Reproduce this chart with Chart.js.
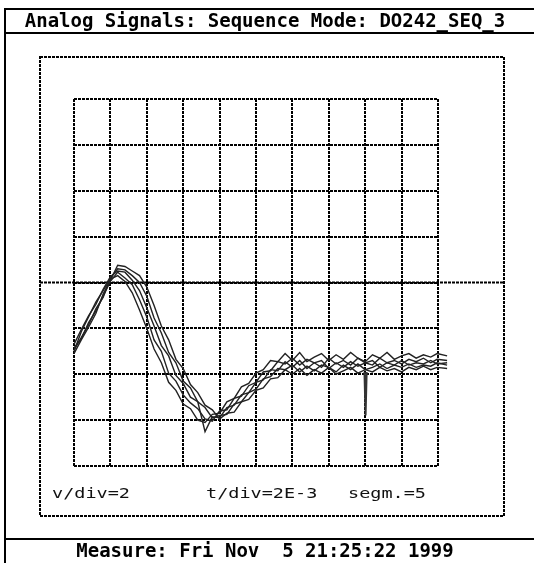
<!DOCTYPE html>
<html>
<head>
<meta charset="utf-8">
<script src="https://cdn.jsdelivr.net/npm/chart.js@4.4.0/dist/chart.umd.min.js"></script>
<style>
    html, body { margin: 0; padding: 0; background: #fff; }
    #wrap { position: relative; width: 534px; height: 563px; overflow: hidden; }
    #scope { position: absolute; left: 0; top: 0; }
    .txt { position: absolute; white-space: pre; font-family: "DejaVu Sans Mono", monospace; line-height: 1; color: #000; }
    .head { font-size: 19px; font-weight: bold; width: 534px; text-align: center; }
    .lbl { font-size: 14px; color: #111; transform: scaleX(1.32); transform-origin: left top; }
</style>
</head>
<body>
<div id="wrap">
    <canvas id="scope" width="534" height="563"></canvas>
    <div class="txt head" style="left:-2px; top:11px;">Analog Signals: Sequence Mode: DO242_SEQ_3</div>
    <div class="txt lbl" style="left:52px; top:486px;">v/div=2</div>
    <div class="txt lbl" style="left:206px; top:486px;">t/div=2E-3</div>
    <div class="txt lbl" style="left:348px; top:486px;">segm.=5</div>
    <div class="txt head" style="left:-2px; top:541px;">Measure: Fri Nov  5 21:25:22 1999</div>
</div>
<script>
// temps en ms (t/div = 2E-3 s), tensions en V (v/div = 2)
const times = [0, 0.4, 0.8, 1.2, 1.6, 2.0, 2.4, 2.8, 3.2, 3.6,
    4.0, 4.4, 4.8, 5.2, 5.6, 6.0, 6.4, 6.8, 7.2, 7.6,
    8.0, 8.4, 8.8, 9.2, 9.6, 10.0, 10.4, 10.8, 11.2, 11.6,
    12.0, 12.4, 12.8, 13.2, 13.6, 14.0, 14.4, 14.8, 15.2, 15.6,
    16.0, 16.4, 16.8, 17.2, 17.6, 18.0, 18.4, 18.8, 19.2, 19.6,
    19.95, 20.5];

// 5 segments superposés
const seg1 = [-3.0, -2.15, -1.5, -0.85, -0.35, 0.15, 0.3, 0.05, -0.45, -1.2,
    -2.0, -2.9, -3.5, -4.35, -4.7, -5.3, -5.5, -6.0, -6.1, -5.75,
    -5.7, -5.2, -5.05, -4.55, -4.4, -3.95, -3.8, -3.4, -3.45, -3.1,
    -3.4, -3.05, -3.45, -3.25, -3.1, -3.4, -3.15, -3.35, -3.05, -3.3,
    -3.45, -3.15, -3.3, -3.05, -3.35, -3.2, -3.1, -3.3, -3.15, -3.25,
    -3.1, -3.2];
const seg2 = [-2.85, -2.45, -1.75, -1.25, -0.6, 0.05, 0.45, 0.2, -0.1, -0.75,
    -1.5, -2.5, -3.0, -3.95, -4.3, -4.9, -5.25, -5.5, -5.95, -6.05,
    -5.6, -5.55, -5.05, -4.95, -4.5, -4.35, -3.9, -3.85, -3.45, -3.55,
    -3.3, -3.6, -3.35, -3.5, -3.7, -3.3, -3.55, -3.4, -3.6, -3.3,
    -3.5, -3.6, -3.3, -3.5, -3.4, -3.55, -3.35, -3.45, -3.3, -3.5,
    -3.35, -3.4];
const seg3 = [-2.7, -2.05, -1.45, -0.95, -0.3, 0.25, 0.5, 0.45, 0.1, -0.35,
    -1.1, -1.9, -2.75, -3.2, -4.05, -4.4, -5.0, -5.2, -6.5, -5.85,
    -5.9, -5.45, -5.35, -4.9, -4.8, -4.35, -4.25, -3.8, -3.85, -3.45,
    -3.7, -3.4, -3.75, -3.5, -3.4, -3.75, -3.5, -3.7, -3.45, -3.65,
    -3.5, -3.4, -3.7, -3.5, -3.6, -3.4, -3.6, -3.5, -3.55, -3.4,
    -3.55, -3.5];
const seg4 = [-2.95, -2.4, -1.85, -1.15, -0.65, 0.2, 0.6, 0.55, 0.3, 0.0,
    -0.6, -1.55, -2.2, -3.05, -3.5, -4.3, -4.6, -5.2, -5.45, -5.9,
    -5.8, -5.75, -5.3, -5.2, -4.8, -4.65, -4.2, -4.1, -3.75, -3.8,
    -3.6, -3.9, -3.65, -3.85, -3.6, -3.7, -3.9, -3.6, -3.8, -3.55,
    -3.8, -3.7, -3.55, -3.75, -3.6, -3.7, -3.55, -3.7, -3.6, -3.65,
    -3.5, -3.6];
const seg5 = [-3.1, -2.5, -1.95, -1.35, -0.5, 0.1, 0.75, 0.7, 0.5, 0.3,
    -0.2, -1.0, -1.9, -2.5, -3.35, -3.75, -4.45, -4.8, -5.35, -5.55,
    -5.95, -5.7, -5.65, -5.2, -5.1, -4.7, -4.6, -4.2, -4.15, -3.8,
    -4.0, -3.75, -4.05, -3.8, -3.95, -3.7, -4.0, -3.85, -3.7, -3.95,
    -3.8, -3.9, -3.7, -3.85, -3.75, -3.9, -3.7, -3.8, -3.65, -3.8,
    -3.7, -3.75];

// pic isolé vers 16 ms
const glitchTimes = [15.96, 16.02, 16.08];
const glitchValues = [-3.9, -5.8, -3.9];

const segments = [seg1, seg2, seg3, seg4, seg5];

// cadre, boîte pointillée et axe central prolongé
const scopeFrame = {
    id: 'scopeFrame',
    beforeDraw(chart) {
        const ctx = chart.ctx;
        const y0 = chart.scales.y.getPixelForValue(0);
        ctx.save();
        ctx.strokeStyle = '#000';
        ctx.lineWidth = 2;
        ctx.beginPath();
        ctx.moveTo(5, 9); ctx.lineTo(534, 9);
        ctx.moveTo(5, 33); ctx.lineTo(534, 33);
        ctx.moveTo(5, 539); ctx.lineTo(534, 539);
        ctx.moveTo(5, 8); ctx.lineTo(5, 563);
        ctx.stroke();
        ctx.setLineDash([3, 1]);
        ctx.strokeRect(40, 57, 464, 459);
        ctx.beginPath();
        ctx.moveTo(40, y0); ctx.lineTo(504, y0);
        ctx.stroke();
        ctx.restore();
    }
};

new Chart(document.getElementById('scope'), {
    type: 'line',
    data: {
        datasets: segments.map(seg => ({
            data: times.map((t, i) => ({ x: t, y: seg[i] })),
            borderColor: '#222',
            borderWidth: 1.4,
            pointRadius: 0,
            tension: 0,
            clip: false
        })).concat([{
            data: glitchTimes.map((t, i) => ({ x: t, y: glitchValues[i] })),
            borderColor: '#333',
            borderWidth: 2,
            pointRadius: 0,
            tension: 0
        }])
    },
    options: {
        responsive: false,
        devicePixelRatio: 1,
        animation: false,
        layout: { padding: { left: 74, right: 96, top: 99, bottom: 97 } },
        plugins: { legend: { display: false }, tooltip: { enabled: false } },
        scales: {
            x: {
                type: 'linear', min: 0, max: 20,
                ticks: { display: false, stepSize: 2 },
                grid: { color: '#000', lineWidth: 2, drawTicks: false },
                border: { display: false, dash: [3, 1] }
            },
            y: {
                type: 'linear', min: -8, max: 8,
                ticks: { display: false, stepSize: 2 },
                grid: { color: '#000', lineWidth: 2, drawTicks: false },
                border: { display: false, dash: [3, 1] }
            }
        }
    },
    plugins: [scopeFrame]
});
</script>
</body>
</html>
